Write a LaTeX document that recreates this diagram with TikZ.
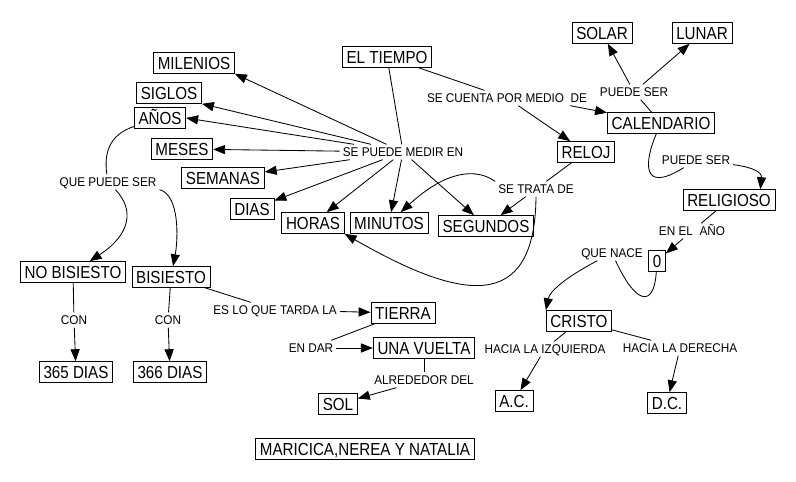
\documentclass[tikz,border=0pt]{standalone}
\usepackage{fontspec}
\setmainfont{Liberation Sans}
\newfontfamily\boxfont[FakeStretch=0.87]{Liberation Sans}
\newfontfamily\labfont[FakeStretch=0.93]{Liberation Sans}
\usetikzlibrary{arrows.meta,calc}

\begin{document}
\begin{tikzpicture}[
    x=0.025cm,y=-0.025cm,
    box/.style={draw,line width=0.6pt,
                font=\boxfont\fontsize{12.4}{14}\selectfont,
                inner xsep=3pt,inner ysep=2.9pt,
                text height=9pt,text depth=0pt},
    lab/.style={font=\labfont\fontsize{9}{11}\selectfont,inner sep=2pt,
                text height=6.5pt,text depth=0pt},
    con/.style={line width=0.6pt},
    arr/.style={con,-{Triangle[length=8.5pt,width=6.5pt]}},
  ]
    \useasboundingbox (0,0) rectangle (796,481);
    \node[box](tiempo) at (387,57){EL TIEMPO};
    \node[lab](medir) at (403,152){SE PUEDE MEDIR EN};
    \node[box](milenios) at (194,63){MILENIOS};
    \node[box](siglos) at (169,93){SIGLOS};
    \node[box](anos) at (160,118){AÑOS};
    \node[box](meses) at (182,149){MESES};
    \node[box](semanas) at (223,178){SEMANAS};
    \node[box](dias) at (252,209){DIAS};
    \node[box](horas) at (313,223){HORAS};
    \node[box](minutos) at (389,223){MINUTOS};
    \node[box](segundos) at (486,226){SEGUNDOS};
    \node[lab](cuenta) at (507,98){SE CUENTA POR MEDIO\ \ DE};
    \node[box](reloj) at (586,152){RELOJ};
    \node[lab](trata) at (536,189){SE TRATA DE};
    \node[box](calendario) at (661,123){CALENDARIO};
    \node[lab](puedeA) at (634,92){PUEDE SER};
    \node[box](solar) at (602,33){SOLAR};
    \node[box](lunar) at (702,33){LUNAR};
    \node[lab](puedeB) at (696,160){PUEDE SER};
    \node[box](religioso) at (729,200){RELIGIOSO};
    \node[lab](enano) at (692,231){EN EL\ \ AÑO};
    \node[box](cero) at (657,261){0};
    \node[lab](nace) at (612,253){QUE NACE};
    \node[box](cristo) at (579,321){CRISTO};
    \node[lab](izq) at (545,349){HACIA LA IZQUIERDA};
    \node[lab](der) at (680,348){HACIA LA DERECHA};
    \node[box](ac) at (514,401){A.C.};
    \node[box](dc) at (667,403){D.C.};
    \node[lab](quepuede) at (108,182){QUE PUEDE SER};
    \node[box](nobis) at (73,272){NO BISIESTO};
    \node[box](bis) at (171,277){BISIESTO};
    \node[lab](conA) at (74,320){CON};
    \node[lab](conB) at (168,320){CON};
    \node[box](diasA) at (76,372){365 DIAS};
    \node[box](diasB) at (170,372){366 DIAS};
    \node[lab](tarda) at (275,310){ES LO QUE TARDA LA};
    \node[box](tierra) at (403,313){TIERRA};
    \node[lab](endar) at (311,348){EN DAR};
    \node[box](vuelta) at (424,348){UNA VUELTA};
    \node[lab](alrededor) at (424,380){ALREDEDOR DEL};
    \node[box](sol) at (338,404){SOL};
    \node[box](autoras) at (365,449){MARICICA,NEREA Y NATALIA};

    \draw[con](tiempo)--(medir);
    \foreach \t in {milenios.south east,siglos.south east,anos.east,meses,
                    semanas,dias,horas,minutos,segundos}
      \draw[arr](medir)--(\t);
    \draw[con](tiempo)--(cuenta);
    \draw[arr](cuenta)--(reloj);
    \draw[arr]($(cuenta.south east)+(-20,0)$)--(calendario);
    \draw[con](calendario)--(puedeA);
    \draw[arr](puedeA)--(solar);
    \draw[arr](puedeA)--(lunar);
    \draw[con](calendario)..controls(645,160)and(640,195)..(puedeB);
    \draw[arr](puedeB)..controls(752,167)and(762,172)..
      ($(religioso.north east)+(-15,0)$);
    \draw[con](religioso)--(enano);
    \draw[arr](enano)--(cero);
    \draw[con](cero)..controls(654,308)and(636,305)..(nace);
    \draw[arr](nace)..controls(570,275)and(550,290)..(cristo.north west);
    \draw[con](cristo)--(izq);
    \draw[arr](izq)--(ac);
    \draw[con](cristo)--(der);
    \draw[arr](der)--(dc);
    \draw[con](reloj)--(trata);
    \draw[arr](trata)--(segundos);
    \draw[arr](trata.north west)..controls(470,164)and(438,178)..(minutos);
    \draw[arr](trata.south)..controls(535,315)and(460,300)..(horas.south east);
    \draw[con](anos)..controls(108,135)and(104,155)..(quepuede);
    \draw[arr](quepuede)..controls(135,210)and(130,235)..(nobis);
    \draw[arr](quepuede.south east)..controls(180,195)and(178,240)..(bis);
    \draw[con](nobis)--(conA);
    \draw[arr](conA)--(diasA);
    \draw[con](bis)--(conB);
    \draw[arr](conB)--(diasB);
    \draw[con](bis)--(tarda);
    \draw[arr](tarda)--(tierra);
    \draw[con](tierra)--(endar);
    \draw[arr](endar)--(vuelta);
    \draw[con](vuelta)--(alrededor);
    \draw[arr](alrededor)--(sol);
  \end{tikzpicture}
\end{document}
